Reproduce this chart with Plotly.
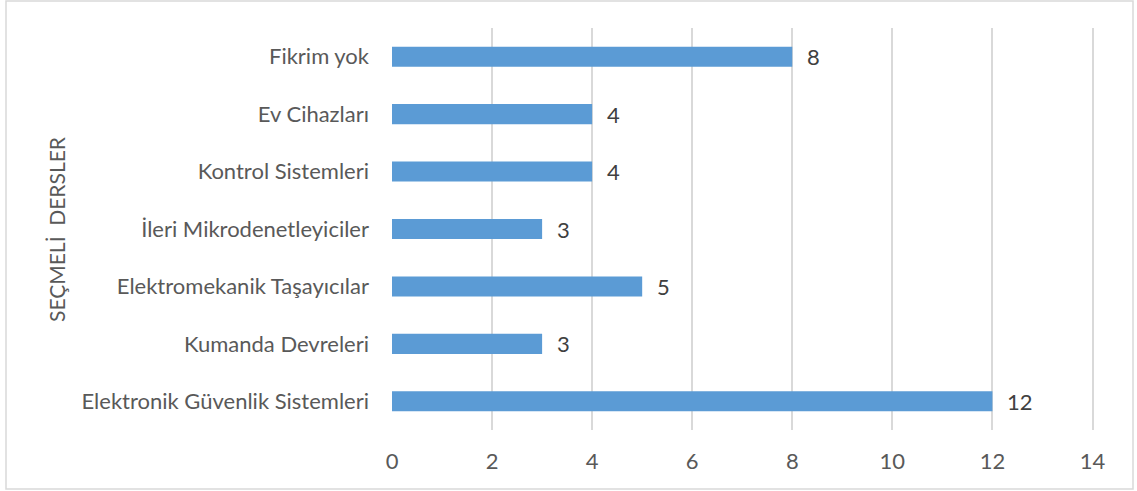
import plotly.graph_objects as go

# Elective courses and the number of responses for each (bottom to top)
courses = [
    "Elektronik Güvenlik Sistemleri",
    "Kumanda Devreleri",
    "Elektromekanik Taşayıcılar",
    "İleri Mikrodenetleyiciler",
    "Kontrol Sistemleri",
    "Ev Cihazları",
    "Fikrim yok",
]
counts = [12, 3, 5, 3, 4, 4, 8]
x_ticks = [0, 2, 4, 6, 8, 10, 12, 14]
axis_title = "SEÇMELİ\u00a0\u00a0DERSLER"

BAR_COLOR = "#5b9bd5"
TEXT_COLOR = "#595959"
LABEL_COLOR = "#404040"
GRID_COLOR = "#d9d9d9"
FONT = "Lato, Carlito, Calibri, sans-serif"
FS = 22

fig = go.Figure(
    go.Bar(
        x=counts,
        y=courses,
        orientation="h",
        marker=dict(color=BAR_COLOR, line=dict(width=0)),
        width=0.35,
        hoverinfo="x+y",
    )
)

# value labels placed just past the end of each bar
for name, value in zip(courses, counts):
    fig.add_annotation(
        x=value, y=name, text=str(value),
        xanchor="left", yanchor="middle", xshift=13, showarrow=False,
        font=dict(family=FONT, size=FS, color=LABEL_COLOR),
    )

W, H = 1137, 491
L, R, T, B = 392, 42, 28, 61
pw, ph = W - L - R, H - T - B

# rotated axis title on the left
fig.add_annotation(
    xref="paper", yref="paper", x=(56 - L) / pw, y=0.5,
    xanchor="center", yanchor="middle", textangle=-90,
    text=axis_title, showarrow=False,
    font=dict(family=FONT, size=21, color=TEXT_COLOR),
)

# thin frame around the whole chart
fig.add_shape(
    type="rect", xref="paper", yref="paper",
    x0=(6 - L) / pw, x1=(1133 - L) / pw,
    y0=(H - B - 489) / ph, y1=(H - B - 1) / ph,
    line=dict(color=GRID_COLOR, width=1.5), fillcolor="rgba(0,0,0,0)",
    layer="below",
)

fig.update_layout(
    width=W, height=H,
    margin=dict(l=L, r=R, t=T, b=B, autoexpand=False),
    paper_bgcolor="white", plot_bgcolor="white",
    font=dict(family=FONT, size=FS, color=TEXT_COLOR),
    showlegend=False,
)
fig.update_xaxes(
    range=[0, 14.05], tickvals=x_ticks, ticktext=[str(v) for v in x_ticks],
    showgrid=True, gridcolor=GRID_COLOR, gridwidth=1.5,
    zeroline=False, showline=False, ticks="",
    ticklabelstandoff=16,
    tickfont=dict(family=FONT, size=FS, color=TEXT_COLOR),
)
fig.update_yaxes(
    categoryorder="array", categoryarray=courses,
    showgrid=False, zeroline=False, showline=False, ticks="",
    ticklabelstandoff=22,
    tickfont=dict(family=FONT, size=FS, color=TEXT_COLOR),
)

fig.write_html("out.html")
